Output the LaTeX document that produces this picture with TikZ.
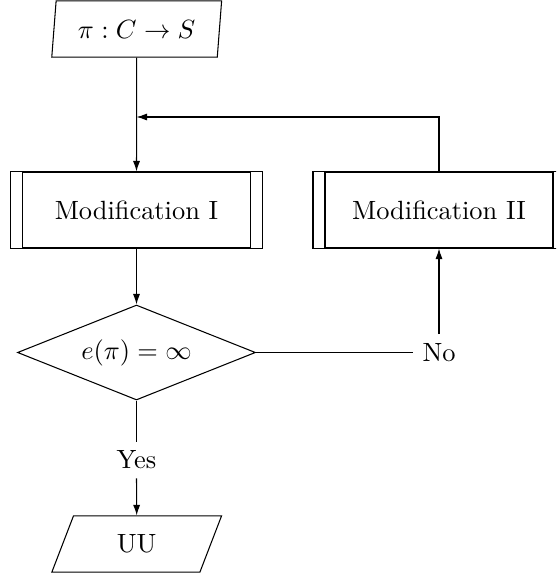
\documentclass[tikz,border=0pt]{standalone}
\usepackage{amssymb}
\usepackage{amsmath}
\usetikzlibrary{shapes.geometric, arrows.meta}

\tikzset{
	iobox/.style={trapezium, draw, trapezium stretches=true, minimum width=64.4pt, minimum height=21.3pt, inner sep=0pt},
	procbox/.style={rectangle, draw, minimum width=86.4pt, minimum height=28.8pt, inner sep=0pt},
	testbox/.style={diamond, draw, aspect=2.5, minimum width=90.2pt, minimum height=36pt, inner sep=0pt}
}

\begin{document}
\begin{tikzpicture}[x=0.379pt, y=-0.379pt, >={Latex[length=4pt,width=2.7pt]}]
		\useasboundingbox (0,0) rectangle (556,579);
		\clip (0,0) rectangle (556,579);
		\node[iobox, trapezium left angle=80, trapezium right angle=100] (in) at (136.7,29) {$\pi : C \to S$};
		\foreach \x /\alph/\name in {
			136.5/mod1/Modification I,
			439/mod2/Modification II
		}{
			\node[procbox] (\alph) at (\x,210) {\name};
		}
		\foreach \n in {mod1, mod2}
		{\draw ([xshift=-4.35pt]\n.north west) rectangle ([xshift=4.35pt]\n.south east);}
		\node[testbox] (test) at (136.5,352.5) {$e(\pi) = \infty$};
		\node (no) at (439,352.5) {No};
		\node (yes) at (136.5,460) {Yes};
		\node[iobox, trapezium left angle=70, trapezium right angle=110] (out) at (136.7,544) {UU};
		\coordinate (join) at (136.5,117);
		% main column
		\draw[->] (in.south) -- (mod1.north);
		\draw[->] (mod1.south) -- (test.north);
		\draw (test.south) -- (yes.north);
		\draw[->] (yes.south) -- (out.north);
		% loop back
		\draw (test.east) -- (no.west);
		\draw[->] (no.north) -- (mod2.south);
		\draw[->] (mod2.north) |- (join);
\end{tikzpicture}
\end{document}
